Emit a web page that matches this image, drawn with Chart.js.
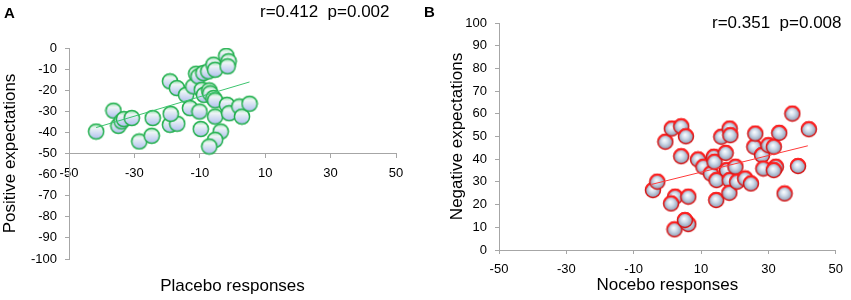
<!DOCTYPE html>
<html>
<head>
<meta charset="utf-8">
<script src="https://cdn.jsdelivr.net/npm/chart.js@4"></script>
<style>
  body { margin: 0; background: #fff; }
  #wrap { position: relative; width: 851px; height: 300px; font-family: "Liberation Sans", Arial, sans-serif; color: #000; }
  canvas { position: absolute; top: 0; }
  .lbl { position: absolute; white-space: pre; line-height: 1; }
  .panel { font-weight: bold; font-size: 15px; }
  .stat { font-size: 17px; }
</style>
</head>
<body>
<div id="wrap">
  <canvas id="chartA" width="420" height="300" style="left:0"></canvas>
  <canvas id="chartB" width="431" height="300" style="left:420px"></canvas>
  <div class="lbl panel" style="left:4px; top:5px">A</div>
  <div class="lbl stat" style="left:260px; top:3px">r=0.412  p=0.002</div>
  <div class="lbl panel" style="left:424px; top:4px">B</div>
  <div class="lbl stat" style="left:712px; top:14px">r=0.351  p=0.008</div>
</div>
<script>
// Panel A: placebo responses vs positive expectations
const placeboX = [-41.7, -36.4, -34.9, -33.9, -33.2, -30.8, -28.5, -24.7, -24.4, -19.1, -17.0, -19.1, -16.9, -18.9, -14.2,
                  -13.0, -12.0, -11.1, -10.4, -8.9, -7.4, -10.1, -9.7, -9.4, -8.7, -7.1, -6.8, -5.8, -5.3, -5.3,
                  -5.8, -5.3, -3.6, -5.3, -7.1, -1.9, -1.2, -1.5, -1.7, -1.0, 2.1, 2.9, 5.2];
const posExpect = [-39.6, -29.7, -36.9, -34.8, -33.7, -33.2, -44.3, -41.6, -33.2, -15.8, -19.0, -36.4, -35.9, -31.2, -22.2,
                   -28.5, -18.2, -12.2, -13.5, -11.9, -11.1, -30.1, -38.4, -19.8, -22.2, -20.1, -21.5, -23.7, -24.8, -32.5,
                   -7.9, -10.3, -39.6, -43.5, -46.7, -3.7, -6.3, -8.7, -26.9, -30.9, -27.7, -32.5, -26.4];
const trendAX = [-41.7, 5.2];
const trendAY = [-37.7, -16.1];

// Panel B: nocebo responses vs negative expectations
const noceboX = [-4.3, -3.0, -0.6, 1.3, 4.1, 5.5, 4.1, 2.3, 1.1, 6.2, 2.1, 6.2, 5.2, 9.1, 10.7,
                 12.9, 13.8, 14.0, 14.6, 14.5, 16.0, 17.3, 18.5, 18.7, 17.7, 18.5, 18.4, 20.2, 20.7, 23.1,
                 24.8, 25.8, 26.1, 28.1, 28.5, 30.0, 31.6, 32.2, 31.6, 33.2, 34.8, 37.1, 38.8, 42.0];
const negExpect = [26.4, 30.1, 47.7, 53.5, 54.5, 50.1, 41.3, 23.5, 20.5, 23.5, 9.1, 11.4, 13.2, 39.9, 36.7,
                   33.7, 41.1, 38.9, 30.8, 22.0, 49.9, 42.8, 53.5, 50.6, 35.2, 30.8, 25.2, 36.7, 30.1, 31.5,
                   29.3, 45.5, 51.3, 41.8, 35.9, 46.2, 45.5, 36.7, 35.2, 51.6, 24.9, 60.1, 37.0, 53.2];
const trendBX = [-4.7, 41.7];
const trendBY = [28.9, 45.9];

const xTicksMin = -50, xTicksMax = 50, xStep = 20;

const toPoints = (xs, ys) => xs.map((x, i) => ({ x, y: ys[i] }));

// Excel-like bubble markers, drawn once and used as point images
function markerA() {
    const c = document.createElement('canvas');
    c.width = 18; c.height = 18;
    const g = c.getContext('2d');
    const grad = g.createLinearGradient(0, 1, 0, 17);
    grad.addColorStop(0, '#8fe0a8');
    grad.addColorStop(0.28, '#eef5f6');
    grad.addColorStop(1, '#adbdee');
    g.beginPath();
    g.arc(9, 9, 7.6, 0, Math.PI * 2);
    g.fillStyle = grad;
    g.fill();
    g.lineWidth = 1.5;
    g.strokeStyle = '#22b04e';
    g.stroke();
    return c;
}

function markerB() {
    const c = document.createElement('canvas');
    c.width = 18; c.height = 18;
    const g = c.getContext('2d');
    const grad = g.createRadialGradient(8, 7.5, 0, 9, 9, 8);
    grad.addColorStop(0, '#ffffff');
    grad.addColorStop(0.4, '#d2deec');
    grad.addColorStop(0.85, '#98a6bc');
    grad.addColorStop(1, '#707888');
    g.beginPath();
    g.arc(9, 9, 7.5, 0, Math.PI * 2);
    g.fillStyle = grad;
    g.fill();
    g.lineWidth = 1.5;
    g.strokeStyle = '#d81212';
    g.stroke();
    g.beginPath();
    g.arc(9, 9, 7.1, Math.PI * 1.1, Math.PI * 1.9);
    g.lineWidth = 2;
    g.strokeStyle = '#ff2020';
    g.stroke();
    return c;
}

const axisGrey = '#a6a6a6';
const tickFont = { family: '"Liberation Sans", Arial, sans-serif', size: 13 };
const titleFont = { family: '"Liberation Sans", Arial, sans-serif', size: 17 };

Chart.defaults.color = '#000';
Chart.defaults.animation = false;

new Chart(document.getElementById('chartA'), {
    type: 'scatter',
    data: {
        datasets: [
            {
                data: toPoints(trendAX, trendAY),
                type: 'line',
                borderColor: '#3cc46e',
                borderWidth: 1,
                pointRadius: 0,
                fill: false,
                order: 0,
            },
            {
                data: toPoints(placeboX, posExpect),
                pointStyle: markerA(),
                order: 1,
            },
        ],
    },
    options: {
        responsive: false,
        layout: { padding: { top: 48, right: 24, bottom: 0, left: 0 } },
        plugins: {
            legend: { display: false },
            tooltip: { enabled: false },
            title: {
                display: true,
                position: 'bottom',
                fullSize: false,
                text: 'Placebo responses',
                font: { ...titleFont, weight: 'normal' },
                padding: { top: 17.6, bottom: 3 },
            },
        },
        scales: {
            x: {
                type: 'linear',
                position: { y: -50 },
                min: xTicksMin,
                max: xTicksMax,
                ticks: { stepSize: xStep, font: tickFont, padding: 8, maxRotation: 0 },
                grid: { drawOnChartArea: false, tickLength: 4, color: axisGrey },
                border: { color: axisGrey },
            },
            y: {
                min: -100,
                max: 0,
                ticks: { stepSize: 10, font: tickFont, padding: 8 },
                grid: { drawOnChartArea: false, tickLength: 4, color: axisGrey },
                border: { color: axisGrey },
                title: { display: true, text: 'Positive expectations', font: titleFont, padding: { top: 0, bottom: 0 } },
                afterFit: s => { s.width = 69; },
            },
        },
    },
});

new Chart(document.getElementById('chartB'), {
    type: 'scatter',
    data: {
        datasets: [
            {
                data: toPoints(trendBX, trendBY),
                type: 'line',
                borderColor: '#ff3a3a',
                borderWidth: 1,
                pointRadius: 0,
                fill: false,
                order: 0,
            },
            {
                data: toPoints(noceboX, negExpect),
                pointStyle: markerB(),
                order: 1,
            },
        ],
    },
    options: {
        responsive: false,
        layout: { padding: { top: 23, right: 11, bottom: 0, left: 0 } },
        plugins: {
            legend: { display: false },
            tooltip: { enabled: false },
        },
        scales: {
            x: {
                type: 'linear',
                min: xTicksMin,
                max: xTicksMax,
                ticks: { stepSize: xStep, font: tickFont, padding: 8, maxRotation: 0 },
                grid: { drawOnChartArea: false, tickLength: 4, color: axisGrey },
                border: { color: axisGrey },
                title: { display: true, text: 'Nocebo responses', font: titleFont, padding: { top: 0, bottom: 4 } },
                afterFit: s => { s.height = 50; },
            },
            y: {
                min: 0,
                max: 100,
                ticks: { stepSize: 10, font: tickFont, padding: 8 },
                grid: { drawOnChartArea: false, tickLength: 4, color: axisGrey },
                border: { color: axisGrey },
                title: { display: true, text: 'Negative expectations', font: titleFont, padding: { top: 27, bottom: 0 } },
                afterFit: s => { s.width = 79; },
            },
        },
    },
});
</script>
</body>
</html>
